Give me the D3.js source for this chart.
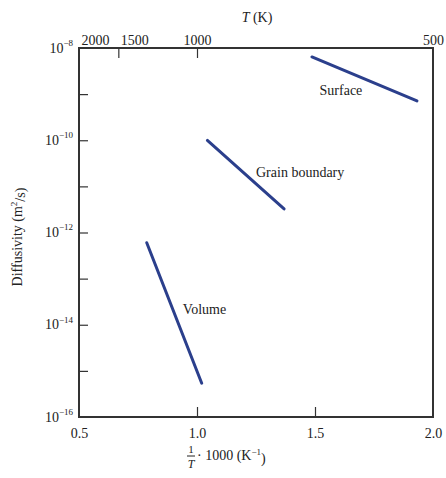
<!DOCTYPE html>
<html><head><meta charset="utf-8">
<script src="https://cdn.jsdelivr.net/npm/d3@7"></script>
<style>
body{margin:0;background:#fff;}
text{font-family:"Liberation Serif","DejaVu Serif",serif;fill:#222;}
</style></head>
<body><svg id="c" width="446" height="478"></svg>
<script>
// ---- data ----
const seriesNames = ["Surface", "Grain boundary", "Volume"];
const invT = [[1.487, 1.932], [1.044, 1.369], [0.787, 1.020]];       // 1000/T (1/K)
const diffusivity = [[6.4e-9, 7.1e-10], [9.9e-11, 3.25e-12], [6.0e-13, 5.4e-16]]; // m^2/s
const xTicks = [0.5, 1.0, 1.5, 2.0];
const xTickLabels = ["0.5", "1.0", "1.5", "2.0"];
const tempTicks = [2000, 1500, 1000, 500];
const yExponents = [-16, -15, -14, -13, -12, -11, -10, -9, -8];
const yLabelExponents = [-16, -14, -12, -10, -8];
// label anchors in data units
const labelX = [1.61, 1.25, 0.94];
const labelY = [1.25e-9, 2.0e-11, 2.2e-14];
const labelAnchor = ["middle", "start", "start"];

const svg = d3.select("#c");
const L = 79, R = 433, T = 48, B = 417;
const x = d3.scaleLinear().domain([0.5, 2.0]).range([L, R]);
const y = d3.scaleLog().domain([1e-16, 1e-8]).range([B, T]);
const lineColor = "#2b3f8c";
const axisColor = "#333";

// frame
svg.append("rect").attr("x", L).attr("y", T).attr("width", R - L).attr("height", B - T)
  .attr("fill", "none").attr("stroke", axisColor).attr("stroke-width", 2);

// bottom axis
const gB = svg.append("g").attr("transform", `translate(0,${B})`)
  .call(d3.axisBottom(x).tickValues(xTicks).tickSize(-10).tickPadding(11)
    .tickFormat((d, i) => xTickLabels[i]));
gB.select(".domain").remove();
gB.selectAll(".tick line").attr("stroke", axisColor).attr("stroke-width", 1.2)
  .filter(d => d === 0.5 || d === 2.0).remove();
gB.selectAll(".tick text").attr("font-size", 14).attr("fill", "#222");

// top axis (temperature)
const gT = svg.append("g").attr("transform", `translate(0,${T})`)
  .call(d3.axisTop(x).tickValues(tempTicks.map(t => 1000 / t)).tickSize(-10).tickPadding(3)
    .tickFormat((d, i) => String(tempTicks[i])));
gT.select(".domain").remove();
gT.selectAll(".tick line").attr("stroke", axisColor).attr("stroke-width", 1.2)
  .filter((d, i) => tempTicks[i] === 2000 || tempTicks[i] === 500).remove();
gT.selectAll(".tick text").attr("font-size", 14).attr("fill", "#222")
  .attr("text-anchor", (d, i) => tempTicks[i] >= 1500 ? "start" : "middle")
  .attr("dx", (d, i) => tempTicks[i] >= 1500 ? 2 : 0);

// left axis
const gL = svg.append("g").attr("transform", `translate(${L},0)`)
  .call(d3.axisLeft(y).tickValues(yExponents.map(e => Math.pow(10, e))).tickSize(-9).tickPadding(6)
    .tickFormat(() => ""));
gL.select(".domain").remove();
gL.selectAll(".tick line").attr("stroke", axisColor).attr("stroke-width", 1.2)
  .filter((d, i) => yExponents[i] === -16 || yExponents[i] === -8).remove();
gL.selectAll(".tick text").each(function (d, i) {
  const e = yExponents[i];
  if (!yLabelExponents.includes(e)) return;
  const t = d3.select(this).attr("font-size", 14).attr("fill", "#222").attr("dy", "0.3em");
  t.append("tspan").text("10");
  t.append("tspan").attr("font-size", 9).attr("dy", "-0.75em").text("\u2212" + Math.abs(e));
});

// series lines
const line = d3.line().x(d => x(d[0])).y(d => y(d[1]));
seriesNames.forEach((name, i) => {
  const pts = invT[i].map((v, j) => [v, diffusivity[i][j]]);
  svg.append("path").datum(pts).attr("d", line)
    .attr("fill", "none").attr("stroke", lineColor).attr("stroke-width", 3)
    .attr("stroke-linecap", "round");
  svg.append("text").attr("x", x(labelX[i])).attr("y", y(labelY[i])).attr("dy", "0.35em")
    .attr("text-anchor", labelAnchor[i]).attr("font-size", 14).text(name);
});

// top title
const tt = svg.append("text").attr("x", 257).attr("y", 22).attr("text-anchor", "middle").attr("font-size", 14);
tt.append("tspan").attr("font-style", "italic").text("T");
tt.append("tspan").text(" (K)");

// y title
const yt = svg.append("text").attr("transform", "translate(22,237) rotate(-90)")
  .attr("text-anchor", "middle").attr("font-size", 14);
yt.append("tspan").text("Diffusivity (m");
yt.append("tspan").attr("font-size", 9).attr("dy", "-0.6em").text("2");
yt.append("tspan").attr("dy", "0.6em").text("/s)");

// x title: fraction 1/T
const fx = 191;
svg.append("text").attr("x", fx).attr("y", 453).attr("text-anchor", "middle").attr("font-size", 11).text("1");
svg.append("line").attr("x1", fx - 4).attr("x2", fx + 4).attr("y1", 456).attr("y2", 456)
  .attr("stroke", "#222").attr("stroke-width", 1);
svg.append("text").attr("x", fx).attr("y", 468).attr("text-anchor", "middle").attr("font-size", 12)
  .attr("font-style", "italic").text("T");
const xt = svg.append("text").attr("x", fx + 6).attr("y", 460).attr("font-size", 14);
xt.append("tspan").text("\u00b7 1000 (K");
xt.append("tspan").attr("font-size", 9).attr("dy", "-0.6em").text("\u22121");
xt.append("tspan").attr("dy", "0.6em").text(")");
</script></body></html>
